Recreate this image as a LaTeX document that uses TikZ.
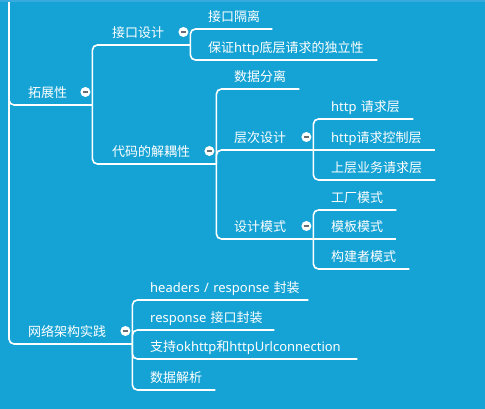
\documentclass[tikz,border=0pt]{standalone}
\usepackage{fontspec}
\setmainfont{Noto Sans CJK SC}
\newfontfamily\enfont{Noto Sans}
\usepackage{xcolor}
\definecolor{mapBg}{RGB}{21,163,213}
\definecolor{mapTop}{RGB}{56,171,222}
\definecolor{foldMark}{RGB}{105,110,115}
\newcommand{\en}[1]{{\enfont #1}}
\tikzset{
    topic/.style={anchor=south west,inner xsep=0pt,inner ysep=7pt,text depth=0pt,
        text height=9pt,text=white,align=left,font=\fontsize{13}{15}\selectfont},
    link/.style={draw=white,line width=1.6pt,rounded corners=5pt},
    fold/.style={circle,fill=white,inner sep=0pt,minimum size=10pt,
        path picture={\draw[foldMark,line width=1.3pt]
            ([xshift=2.4pt]path picture bounding box.west) --
            ([xshift=-2.4pt]path picture bounding box.east);}}
}

\begin{document}
\begin{tikzpicture}[x=1pt,y=-1pt]
    \useasboundingbox (0,0) rectangle (485,409);
    \fill[mapBg] (0,0) rectangle (485,409);

    % first level, root sits above the page
    \coordinate (root) at (9,-10);
    \node[topic,text width=64pt]  (tzx)  at (28,105) {拓展性};
    \node[topic,text width=104pt] (wljg) at (28,344) {网络架构实践};

    % extensibility
    \node[topic,text width=78pt]  (jksj) at (112,45)  {接口设计};
    \node[topic,text width=104pt] (djo)  at (112,164) {代码的解耦性};
    \node[topic,text width=64pt]  (jkgl) at (208,29)  {接口隔离};
    \node[topic,text width=169pt] (bzdl) at (208,60)  {保证\en{http}底层请求的独立性};
    \node[topic,text width=65pt]  (sjfl) at (234,89)  {数据分离};
    \node[topic,text width=79pt]  (ccsj) at (234,150) {层次设计};
    \node[topic,text width=79pt]  (sjms) at (234,239) {设计模式};
    \node[topic,text width=82pt]  (qqc)  at (331,119) {\en{http} 请求层};
    \node[topic,text width=104pt] (kzc)  at (331,150) {\en{http}请求控制层};
    \node[topic,text width=104pt] (ywc)  at (331,180) {上层业务请求层};
    \node[topic,text width=65pt]  (gcms) at (331,210) {工厂模式};
    \node[topic,text width=65pt]  (mbms) at (331,239) {模板模式};
    \node[topic,text width=78pt]  (jzms) at (331,269) {构建者模式};

    % network practice
    \node[topic,text width=158pt] (hdr)  at (150,300) {\en{headers / response} 封装};
    \node[topic,text width=124pt] (rsp)  at (150,330) {\en{response} 接口封装};
    \node[topic,text width=207pt] (okh)  at (150,359) {支持\en{okhttp}和\en{httpUrlconnection}};
    \node[topic,text width=65pt]  (sjjx) at (150,390) {数据解析};

    \draw[link] (root) |- (tzx.south east);
    \draw[link] (root) |- (wljg.south east);
    \draw[link] (tzx.south east) |- (jksj.south east);
    \draw[link] (tzx.south east) |- (djo.south east);
    \draw[link] (jksj.south east) |- (jkgl.south east);
    \draw[link] (jksj.south east) |- (bzdl.south east);
    \draw[link] (djo.south east) |- (sjfl.south east);
    \draw[link] (djo.south east) |- (ccsj.south east);
    \draw[link] (djo.south east) |- (sjms.south east);
    \draw[link] (ccsj.south east) |- (qqc.south east);
    \draw[link] (ccsj.south east) -- (kzc.south east);
    \draw[link] (ccsj.south east) |- (ywc.south east);
    \draw[link] (sjms.south east) |- (gcms.south east);
    \draw[link] (sjms.south east) -- (mbms.south east);
    \draw[link] (sjms.south east) |- (jzms.south east);
    \draw[link] (wljg.south east) |- (hdr.south east);
    \draw[link] (wljg.south east) |- (rsp.south east);
    \draw[link] (wljg.south east) |- (okh.south east);
    \draw[link] (wljg.south east) |- (sjjx.south east);

    % collapse markers
    \foreach \t in {tzx,jksj,djo,ccsj,sjms,wljg}
        \node[fold] (f\t) at ([shift={(-7,-13)}]\t.south east) {};

    \fill[mapTop] (0,0) rectangle (485,2);
\end{tikzpicture}
\end{document}
